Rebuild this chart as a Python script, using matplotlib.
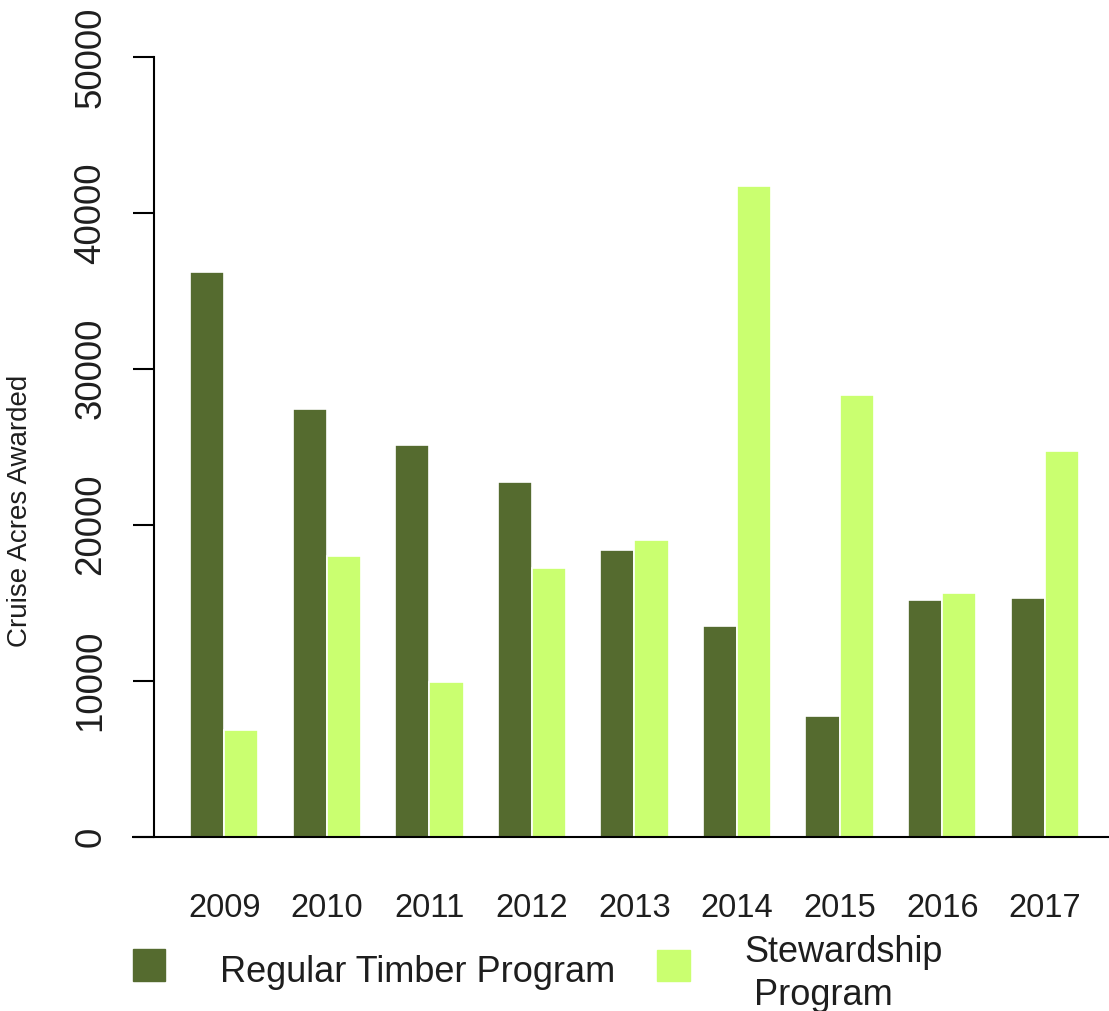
import matplotlib
matplotlib.use("Agg")
import matplotlib.pyplot as plt
from matplotlib.patches import Rectangle
import numpy as np

plt.rcParams['font.family'] = ['Liberation Sans', 'DejaVu Sans']

years = ["2009", "2010", "2011", "2012", "2013", "2014", "2015", "2016", "2017"]
regular_timber = [36200, 27400, 25100, 22750, 18400, 13500, 7700, 15150, 15300]
stewardship = [6800, 18000, 9900, 17200, 19000, 41750, 28300, 15600, 24750]
y_ticks = [0, 10000, 20000, 30000, 40000, 50000]
legend_labels = ["Regular Timber Program", "Stewardship", " Program"]
y_label = "Cruise Acres Awarded"

dark = "#556B2F"
light = "#CAFF70"
txt = "#1e1e1e"

W, H = 1109, 1011
fig = plt.figure(figsize=(W / 100, H / 100), dpi=100)
ax = fig.add_axes([154 / W, (H - 836.5) / H, 955 / W, (836.5 - 57) / H])

n = len(years)
idx = np.arange(n)
x_dark = 1 + 3 * idx
x_light = 2 + 3 * idx
ax.bar(x_dark, regular_timber, width=1, align='edge', color=dark,
       edgecolor='white', linewidth=1.2)
ax.bar(x_light, stewardship, width=1, align='edge', color=light,
       edgecolor='white', linewidth=1.2)

ax.set_xlim(-0.053, 27.88)
ax.set_ylim(0, 50000)

for s in ['top', 'right', 'bottom']:
    ax.spines[s].set_visible(False)
ax.spines['left'].set_bounds(0, 50000)
ax.spines['left'].set_linewidth(1.5)
ax.spines['left'].set_color('black')

# baseline line extending slightly left of the y-axis
ax.plot([-22 / 955, 1.0], [0, 0], transform=ax.get_yaxis_transform(),
        color='black', lw=1.5, clip_on=False, solid_capstyle='butt')

ax.set_yticks(y_ticks)
ax.set_yticklabels([str(v) for v in y_ticks], rotation=90, va='center',
                   fontsize=26.5, color=txt)
ax.tick_params(axis='y', length=15.3, width=1.5, pad=17.5, color='black')

ax.set_xticks(x_light)
ax.set_xticklabels(years, fontsize=23.5, color=txt)
ax.tick_params(axis='x', length=0, pad=41)

fig.text(20 / W, (H - 511) / H, y_label, rotation=90, ha='center',
         va='center', fontsize=20, color=txt)

# legend (horizontal, R style)
fig.patches.append(Rectangle((133 / W, (H - 981) / H), 31.5 / W, 32 / H,
                             transform=fig.transFigure, color=dark))
fig.patches.append(Rectangle((657 / W, (H - 981) / H), 33 / W, 31 / H,
                             transform=fig.transFigure, color=light))
fig.text(220 / W, (H - 982) / H, legend_labels[0], ha='left', va='baseline',
         fontsize=26, color=txt)
fig.text(744 / W, (H - 962) / H, legend_labels[1], ha='left', va='baseline',
         fontsize=26, color=txt)
fig.text(744 / W, (H - 1005) / H, legend_labels[2], ha='left', va='baseline',
         fontsize=26, color=txt)

fig.savefig("out.png", dpi=100, facecolor='white')
